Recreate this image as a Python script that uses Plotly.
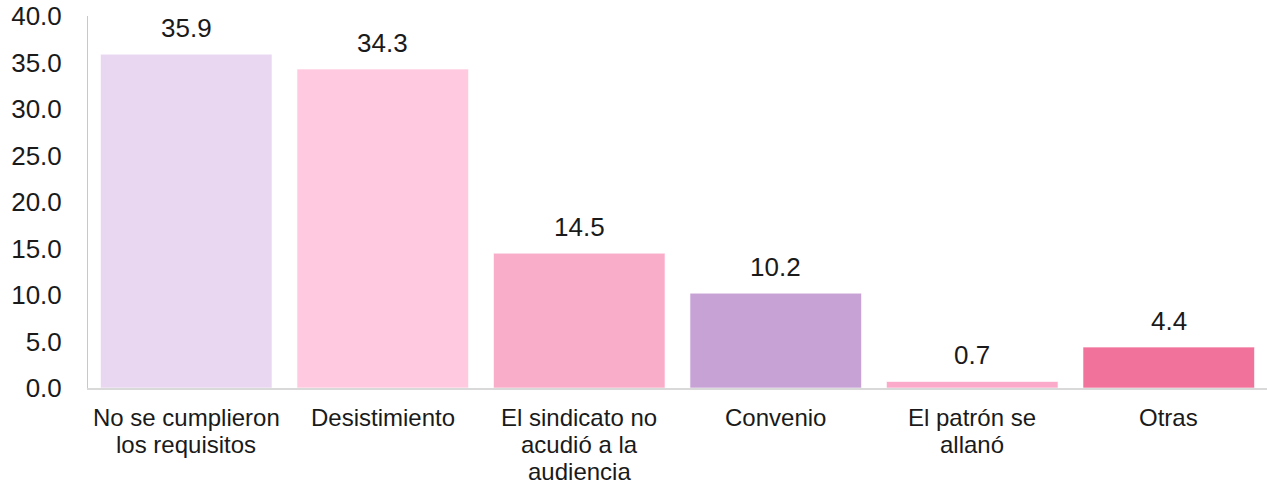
import plotly.graph_objects as go

categories = [
    "No se cumplieron<br>los requisitos",
    "Desistimiento",
    "El sindicato no<br>acudió a la<br>audiencia",
    "Convenio",
    "El patrón se<br>allanó",
    "Otras",
]
values = [35.9, 34.3, 14.5, 10.2, 0.7, 4.4]
labels = ["35.9", "34.3", "14.5", "10.2", "0.7", "4.4"]
colors = ["#E9D6F0", "#FFCADF", "#F9ADC8", "#C6A2D5", "#FBAACA", "#F1729B"]
y_ticks = [0, 5, 10, 15, 20, 25, 30, 35, 40]
y_ticklabels = ["0.0", "5.0", "10.0", "15.0", "20.0", "25.0", "30.0", "35.0", "40.0"]

FONT = "Liberation Sans, Arial, sans-serif"
TXT = "#1a1a1a"

fig = go.Figure(
    go.Bar(
        x=categories,
        y=values,
        marker=dict(color=colors, line=dict(color="rgba(255,255,255,0.6)", width=1)),
        hoverinfo="skip",
    )
)

# value labels above bars
for c, v, t in zip(categories, values, labels):
    fig.add_annotation(
        x=c, y=v, text=t, showarrow=False,
        yanchor="middle", yshift=26,
        font=dict(family=FONT, size=26, color=TXT),
    )

# category labels (one annotation per line for tighter line spacing)
for c in categories:
    for i, line in enumerate(c.split("<br>")):
        fig.add_annotation(
            x=c, y=0, yref="y", text=line, showarrow=False,
            yanchor="middle", yshift=-(29 + 27 * i),
            font=dict(family=FONT, size=24, color=TXT),
        )

fig.update_layout(
    width=1267, height=484,
    margin=dict(l=88, r=0, t=16, b=96),
    paper_bgcolor="white", plot_bgcolor="white",
    bargap=0.127,
    showlegend=False,
    hovermode=False,
    font=dict(family=FONT, size=24, color=TXT),
)
fig.update_yaxes(
    range=[0, 40], tickvals=y_ticks, ticktext=y_ticklabels,
    showgrid=False, zeroline=False, automargin=False,
    showline=True, linecolor="#C8C8C8", linewidth=1,
    ticks="", ticklabelstandoff=20, ticklabeloverflow="allow",
    tickfont=dict(family=FONT, size=26, color=TXT),
)
fig.update_xaxes(
    showgrid=False, zeroline=False, automargin=False,
    showline=True, linecolor="#D9D9D9", linewidth=2,
    ticks="", showticklabels=False,
)

# remove the default page margin so the figure fills the window exactly
fig.write_html(
    "out.html",
    config={"displayModeBar": False, "staticPlot": True},
    post_script="document.body.style.margin='0';document.body.style.overflow='hidden';",
)
